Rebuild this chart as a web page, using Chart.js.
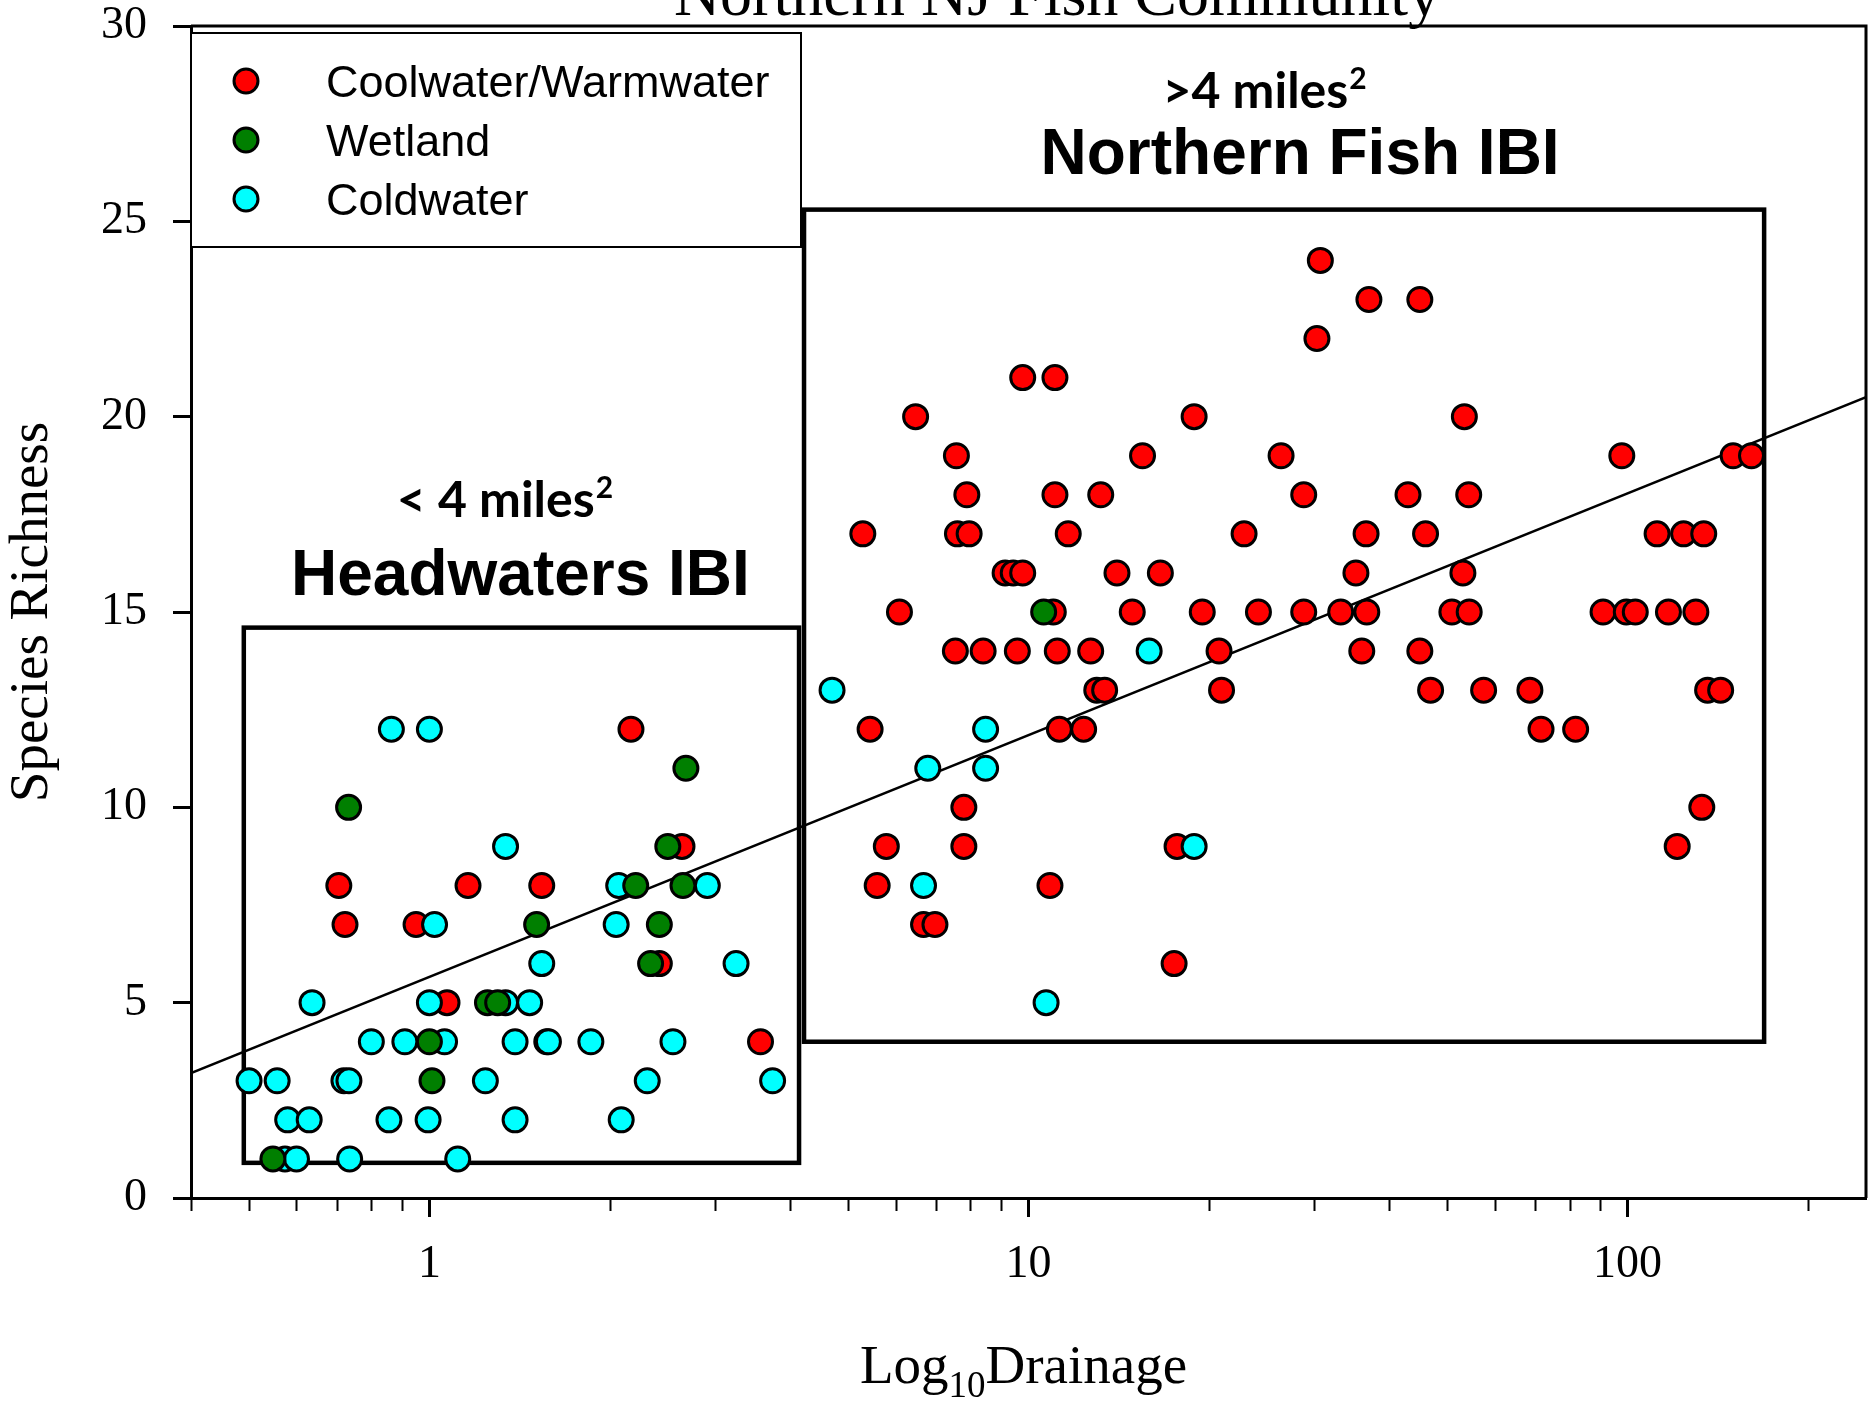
<!DOCTYPE html>
<html>
<head>
<meta charset="utf-8">
<script src="https://cdn.jsdelivr.net/npm/chart.js@4.4.1/dist/chart.umd.min.js"></script>
<style>
    html, body { margin: 0; padding: 0; background: #fff; }
    #wrap { width: 1874px; height: 1403px; }
</style>
</head>
<body>
<div id="wrap"><canvas id="chart" width="1874" height="1403"></canvas></div>
<script>
// Drainage (sq. miles) and species richness per community type.
const coolwaterDrainage = [
    0.706, 1.16, 1.54, 0.723, 0.95, 1.07, 2.17, 2.64, 2.42, 3.57,
    30.7, 37.0, 45.0, 30.3, 9.78, 11.07, 6.48, 18.9, 53.4,
    7.58, 15.5, 26.4, 97.8, 150, 161,
    7.89, 11.07, 13.2, 28.8, 43.0, 54.3,
    5.29, 7.61, 7.96, 11.65, 22.9, 36.6, 46.0, 112, 124, 134,
    9.14, 9.43, 9.78, 14.05, 16.6, 35.2, 53.1,
    6.09, 11.0, 14.9, 19.5, 24.2, 28.8, 33.2, 36.7, 50.9, 54.4, 91.0, 99.5, 103, 117, 130,
    7.55, 8.40, 9.58, 11.17, 12.7, 20.8, 36.0, 45.0,
    13.0, 13.4, 21.0, 46.9, 57.5, 68.7, 136, 143,
    5.44, 11.26, 12.36, 71.7, 81.9,
    7.80, 133,
    5.79, 7.80, 17.7, 121,
    5.59, 10.86,
    6.68, 6.98,
    17.5,
];
const coolwaterRichness = [
    8, 8, 8, 7, 7, 5, 12, 9, 6, 4,
    24, 23, 23, 22, 21, 21, 20, 20, 20,
    19, 19, 19, 19, 19, 19,
    18, 18, 18, 18, 18, 18,
    17, 17, 17, 17, 17, 17, 17, 17, 17, 17,
    16, 16, 16, 16, 16, 16, 16,
    15, 15, 15, 15, 15, 15, 15, 15, 15, 15, 15, 15, 15, 15, 15,
    14, 14, 14, 14, 14, 14, 14, 14,
    13, 13, 13, 13, 13, 13, 13, 13,
    12, 12, 12, 12, 12,
    10, 10,
    9, 9, 9, 9,
    8, 8,
    7, 7,
    6,
];

const wetlandDrainage = [0.733, 2.68, 2.50, 2.21, 2.65, 1.51, 2.42, 2.34, 1.25, 1.30, 1.00, 1.01, 0.548, 10.6];
const wetlandRichness = [10, 11, 9, 8, 8, 7, 7, 6, 5, 5, 4, 3, 1, 15];

const coldwaterDrainage = [
    0.864, 1.00, 1.34, 2.07, 2.91, 1.02, 2.05, 1.54, 3.25,
    0.637, 1.00, 1.34, 1.47,
    0.80, 0.91, 1.06, 1.39, 1.57, 1.58, 1.86, 2.55,
    0.50, 0.557, 0.72, 0.734, 1.24, 2.31, 3.74,
    0.58, 0.63, 0.856, 0.995, 1.39, 2.09,
    0.574, 0.60, 0.736, 1.115,
    4.70, 15.9, 8.48, 6.79, 8.48, 18.9, 6.68, 10.7,
];
const coldwaterRichness = [
    12, 12, 9, 8, 8, 7, 7, 6, 6,
    5, 5, 5, 5,
    4, 4, 4, 4, 4, 4, 4, 4,
    3, 3, 3, 3, 3, 3, 3,
    2, 2, 2, 2, 2, 2,
    1, 1, 1, 1,
    13, 14, 12, 11, 11, 9, 8, 5,
];

// regression line end points (drainage, richness)
const fitDrainage = [0.4, 250];
const fitRichness = [3.2, 20.5];

// IBI boxes: [drainage min, drainage max, richness min, richness max]
const headwatersBox = [0.49, 4.14, 0.9, 14.6];
const northernBox = [4.22, 169, 4.0, 25.3];

const xMajorTicks = [1, 10, 100];
const xMinorTicks = [0.4, 0.5, 0.6, 0.7, 0.8, 0.9, 2, 3, 4, 5, 6, 7, 8, 9,
    20, 30, 40, 50, 60, 70, 80, 90, 200];
const legendLabels = ["Coolwater/Warmwater", "Wetland", "Coldwater"];

const SERIF = "'Liberation Serif', 'Times New Roman', serif";
const SANS = "'Liberation Sans', Arial, sans-serif";

function toPoints(xs, ys) {
    return xs.map((x, i) => ({ x, y: ys[i] }));
}

function scatterSet(label, xs, ys, color, order) {
    return {
        type: "scatter",
        label,
        data: toPoints(xs, ys),
        backgroundColor: color,
        borderColor: "#000",
        borderWidth: 3,
        pointRadius: 12,
        pointHoverRadius: 12,
        order,
    };
}

// text with a raised "2" after it, centred on cx
function drawSuperText(ctx, text, sup, cx, baseline, size, supSize) {
    ctx.font = `bold ${size}px Lato, ${SANS}`;
    const w1 = ctx.measureText(text).width;
    ctx.font = `bold ${supSize}px Lato, ${SANS}`;
    const w2 = ctx.measureText(sup).width;
    const left = cx - (w1 + w2) / 2;
    ctx.textAlign = "left";
    ctx.textBaseline = "alphabetic";
    ctx.font = `bold ${size}px Lato, ${SANS}`;
    ctx.fillText(text, left, baseline);
    ctx.font = `bold ${supSize}px Lato, ${SANS}`;
    ctx.fillText(sup, left + w1 + 1, baseline - size * 0.38);
}

const boxesPlugin = {
    id: "ibiBoxes",
    beforeDatasetsDraw(chart) {
        const { ctx, scales: { x, y } } = chart;
        ctx.save();
        ctx.strokeStyle = "#000";
        ctx.lineWidth = 4.5;
        for (const b of [headwatersBox, northernBox]) {
            const l = x.getPixelForValue(b[0]);
            const r = x.getPixelForValue(b[1]);
            const t = y.getPixelForValue(b[3]);
            const btm = y.getPixelForValue(b[2]);
            ctx.strokeRect(l, t, r - l, btm - t);
        }
        ctx.restore();
    },
};

const decorPlugin = {
    id: "decor",
    afterDraw(chart) {
        const { ctx, chartArea: area, scales: { x, y } } = chart;
        ctx.save();

        // top and right frame
        ctx.strokeStyle = "#000";
        ctx.lineWidth = 3;
        ctx.beginPath();
        ctx.moveTo(area.left, area.top);
        ctx.lineTo(area.right, area.top);
        ctx.lineTo(area.right, area.bottom);
        ctx.stroke();

        // minor ticks on the log axis
        ctx.lineWidth = 2;
        ctx.beginPath();
        for (const v of xMinorTicks) {
            const px = Math.round(x.getPixelForValue(v)) + 0.5;
            ctx.moveTo(px, area.bottom);
            ctx.lineTo(px, area.bottom + 13);
        }
        ctx.stroke();

        // legend
        const lx = area.left, ly = area.top + 7, lw = 610, lh = 214;
        ctx.fillStyle = "#fff";
        ctx.fillRect(lx, ly, lw, lh);
        ctx.lineWidth = 2;
        ctx.strokeRect(lx, ly, lw, lh);
        [0, 1, 2].forEach((di, i) => {
            const ds = chart.data.datasets[di];
            const cy = ly + 48 + i * 59;
            ctx.beginPath();
            ctx.arc(lx + 55, cy, 12, 0, Math.PI * 2);
            ctx.fillStyle = ds.backgroundColor;
            ctx.fill();
            ctx.lineWidth = 3;
            ctx.stroke();
            ctx.fillStyle = "#000";
            ctx.font = `45px ${SANS}`;
            ctx.textAlign = "left";
            ctx.textBaseline = "middle";
            ctx.fillText(legendLabels[i], lx + 135, cy + 4);
        });

        // cut-off chart title
        ctx.fillStyle = "#000";
        ctx.font = `64px ${SERIF}`;
        ctx.textAlign = "center";
        ctx.textBaseline = "alphabetic";
        ctx.fillText("Northern NJ Fish Community", 1057, 15);

        // x axis title with subscript
        const big = `55px ${SERIF}`, small = `37px ${SERIF}`;
        ctx.font = big;
        const wLog = ctx.measureText("Log").width;
        const wDr = ctx.measureText("Drainage").width;
        ctx.font = small;
        const wSub = ctx.measureText("10").width;
        const cx = (area.left + area.right) / 2 - 5;
        let tx = cx - (wLog + wSub + wDr) / 2;
        const base = 1383;
        ctx.textAlign = "left";
        ctx.font = big;
        ctx.fillText("Log", tx, base);
        tx += wLog;
        ctx.font = small;
        ctx.fillText("10", tx, base + 14);
        tx += wSub;
        ctx.font = big;
        ctx.fillText("Drainage", tx, base);

        // box labels
        const hwL = x.getPixelForValue(headwatersBox[0]);
        const hwR = x.getPixelForValue(headwatersBox[1]);
        const hwTop = y.getPixelForValue(headwatersBox[3]);
        const hwC = (hwL + hwR) / 2;
        drawSuperText(ctx, "< 4 miles", "2", hwC - 17, hwTop - 111, 50, 30);
        ctx.font = `bold 64px ${SANS}`;
        ctx.textAlign = "center";
        ctx.fillText("Headwaters IBI", hwC - 1, hwTop - 33);

        const nL = x.getPixelForValue(northernBox[0]);
        const nR = x.getPixelForValue(northernBox[1]);
        const nTop = y.getPixelForValue(northernBox[3]);
        const nC = (nL + nR) / 2;
        drawSuperText(ctx, ">4 miles", "2", nC - 20, nTop - 102, 50, 30);
        ctx.font = `bold 64px ${SANS}`;
        ctx.textAlign = "center";
        ctx.fillText("Northern Fish IBI", nC + 16, nTop - 36);

        ctx.restore();
    },
};

function buildChart() {
    const ctx = document.getElementById("chart");
    return new Chart(ctx, {
        data: {
            datasets: [
                scatterSet(legendLabels[0], coolwaterDrainage, coolwaterRichness, "#ff0000", 3),
                scatterSet(legendLabels[1], wetlandDrainage, wetlandRichness, "#007f00", 1),
                scatterSet(legendLabels[2], coldwaterDrainage, coldwaterRichness, "#00ffff", 2),
                {
                    type: "line",
                    label: "fit",
                    data: toPoints(fitDrainage, fitRichness),
                    borderColor: "#000",
                    borderWidth: 2.5,
                    pointRadius: 0,
                    order: 10,
                },
            ],
        },
        options: {
            responsive: false,
            animation: false,
            // no auto padding: it reserves room for the point radius on the right
            layout: { autoPadding: false, padding: { top: 26, right: 8, left: 0, bottom: 0 } },
            plugins: {
                legend: { display: false },
                tooltip: { enabled: false },
                title: { display: false },
            },
            scales: {
                x: {
                    type: "logarithmic",
                    min: 0.4,
                    max: 250,
                    afterBuildTicks: (scale) => {
                        scale.ticks = xMajorTicks.map((value) => ({ value }));
                    },
                    afterFit: (scale) => {
                        scale.height = 205;
                        scale.paddingLeft = 0;
                        scale.paddingRight = 0;
                    },
                    ticks: {
                        color: "#000",
                        font: { family: SERIF, size: 46 },
                        padding: 20,
                        maxRotation: 0,
                        autoSkip: false,
                        callback: (value) => String(value),
                    },
                    grid: {
                        drawOnChartArea: false,
                        tickLength: 19,
                        tickWidth: 3,
                        tickColor: "#000",
                    },
                    border: { color: "#000", width: 3 },
                },
                y: {
                    type: "linear",
                    min: 0,
                    max: 30,
                    afterFit: (scale) => {
                        scale.width = 191;
                        scale.paddingTop = 0;
                        scale.paddingBottom = 0;
                    },
                    ticks: {
                        stepSize: 5,
                        color: "#000",
                        font: { family: SERIF, size: 46 },
                        padding: 26,
                    },
                    grid: {
                        drawOnChartArea: false,
                        tickLength: 18,
                        tickWidth: 3,
                        tickColor: "#000",
                    },
                    border: { color: "#000", width: 3 },
                    title: {
                        display: true,
                        text: "Species Richness",
                        color: "#000",
                        font: { family: SERIF, size: 55 },
                        padding: { top: 0, bottom: 0 },
                    },
                },
            },
        },
        plugins: [boxesPlugin, decorPlugin],
    });
}

buildChart();
</script>
</body>
</html>
